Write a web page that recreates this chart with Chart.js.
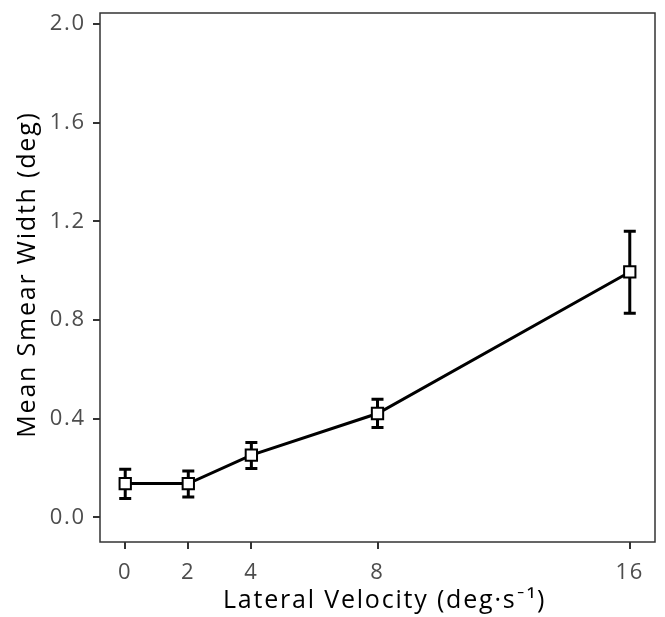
<!DOCTYPE html>
<html>
<head>
<meta charset="utf-8">
<script src="https://cdn.jsdelivr.net/npm/chart.js@4/dist/chart.umd.min.js"></script>
<style>
  html, body { margin: 0; padding: 0; background: #ffffff; }
  #wrap { width: 665px; height: 617px; }
</style>
</head>
<body>
<div id="wrap"><canvas id="chart" width="665" height="617"></canvas></div>
<script>
// ─── Data ───────────────────────────────────────────────────────────────────
const velocities = [0, 2, 4, 8, 16];
const meanWidth = [0.137, 0.137, 0.252, 0.421, 0.995];
const errLow = [0.076, 0.082, 0.198, 0.364, 0.828];
const errHigh = [0.195, 0.188, 0.303, 0.479, 1.160];
const xTicks = [0, 2, 4, 8, 16];
const yTicks = [0.0, 0.4, 0.8, 1.2, 1.6, 2.0];

const FONT = '"Open Sans", Lato, sans-serif';

// The reference text is set a little loose; widen every label the same way.
// (Set before each layout: resizing the canvas resets the context state.)
const letterSpacingPlugin = {
  id: 'letterSpacing',
  beforeUpdate(chart) { chart.ctx.letterSpacing = '1.8px'; },
  beforeDraw(chart) { chart.ctx.letterSpacing = '1.8px'; },
};

// Error bars drawn through the scales, under the markers.
const errorBarPlugin = {
  id: 'errorBars',
  beforeDatasetsDraw(chart) {
    const { ctx, scales } = chart;
    const cap = 6;
    ctx.save();
    ctx.strokeStyle = '#000';
    ctx.lineWidth = 3;
    velocities.forEach((v, i) => {
      const x = scales.x.getPixelForValue(v);
      const yLo = scales.y.getPixelForValue(errLow[i]);
      const yHi = scales.y.getPixelForValue(errHigh[i]);
      ctx.beginPath();
      ctx.moveTo(x, yLo); ctx.lineTo(x, yHi);
      ctx.moveTo(x - cap, yLo); ctx.lineTo(x + cap, yLo);
      ctx.moveTo(x - cap, yHi); ctx.lineTo(x + cap, yHi);
      ctx.stroke();
    });
    ctx.restore();
  },
};

// Panel border round the plot area.
const panelBorderPlugin = {
  id: 'panelBorder',
  afterDraw(chart) {
    const { ctx, chartArea: a } = chart;
    ctx.save();
    ctx.strokeStyle = '#333';
    ctx.lineWidth = 1.5;
    ctx.strokeRect(a.left, a.top, a.right - a.left, a.bottom - a.top);
    ctx.restore();
  },
};

new Chart(document.getElementById('chart'), {
  type: 'line',
  data: {
    datasets: [{
      data: velocities.map((v, i) => ({ x: v, y: meanWidth[i] })),
      borderColor: '#000',
      borderWidth: 3,
      pointStyle: 'rect',
      pointRadius: 8,
      pointBackgroundColor: '#fff',
      pointBorderColor: '#000',
      pointBorderWidth: 2,
      tension: 0,
    }],
  },
  options: {
    responsive: false,
    animation: false,
    layout: { padding: { left: 0, top: 13, right: 7, bottom: 0 } },
    plugins: { legend: { display: false }, tooltip: { enabled: false } },
    scales: {
      x: {
        type: 'linear',
        min: -0.8,
        max: 16.8,
        afterBuildTicks(scale) { scale.ticks = xTicks.map((v) => ({ value: v })); },
        afterFit(scale) {
          scale.height = 75;
          scale.paddingLeft = 0;
          scale.paddingRight = 0;
        },
        border: { display: false },
        grid: { drawOnChartArea: false, tickLength: 7, tickColor: '#333', lineWidth: 2 },
        ticks: { color: '#4d4d4d', font: { family: FONT, size: 22 }, padding: 11, maxRotation: 0 },
        title: {
          display: true,
          // leading en space nudges the centred title right, as in the reference
          text: '\u2002Lateral Velocity (deg·s⁻¹)',
          color: '#000',
          font: { family: FONT, size: 25 },
          padding: { top: 0, bottom: 1 },
        },
      },
      y: {
        min: -0.1,
        max: 2.045,
        afterBuildTicks(scale) { scale.ticks = yTicks.map((v) => ({ value: v })); },
        afterFit(scale) {
          scale.width = 100;
          scale.paddingTop = 0;
          scale.paddingBottom = 0;
        },
        border: { display: false },
        grid: { drawOnChartArea: false, tickLength: 7, tickColor: '#333', lineWidth: 2 },
        ticks: {
          color: '#4d4d4d',
          font: { family: FONT, size: 22 },
          padding: 7,
          callback: (v) => Number(v).toFixed(1),
        },
        title: {
          display: true,
          text: '\u2009Mean Smear Width (deg)',
          color: '#000',
          font: { family: FONT, size: 25 },
          padding: { top: 13, bottom: 4 },
        },
      },
    },
  },
  plugins: [letterSpacingPlugin, errorBarPlugin, panelBorderPlugin],
});
</script>
</body>
</html>
